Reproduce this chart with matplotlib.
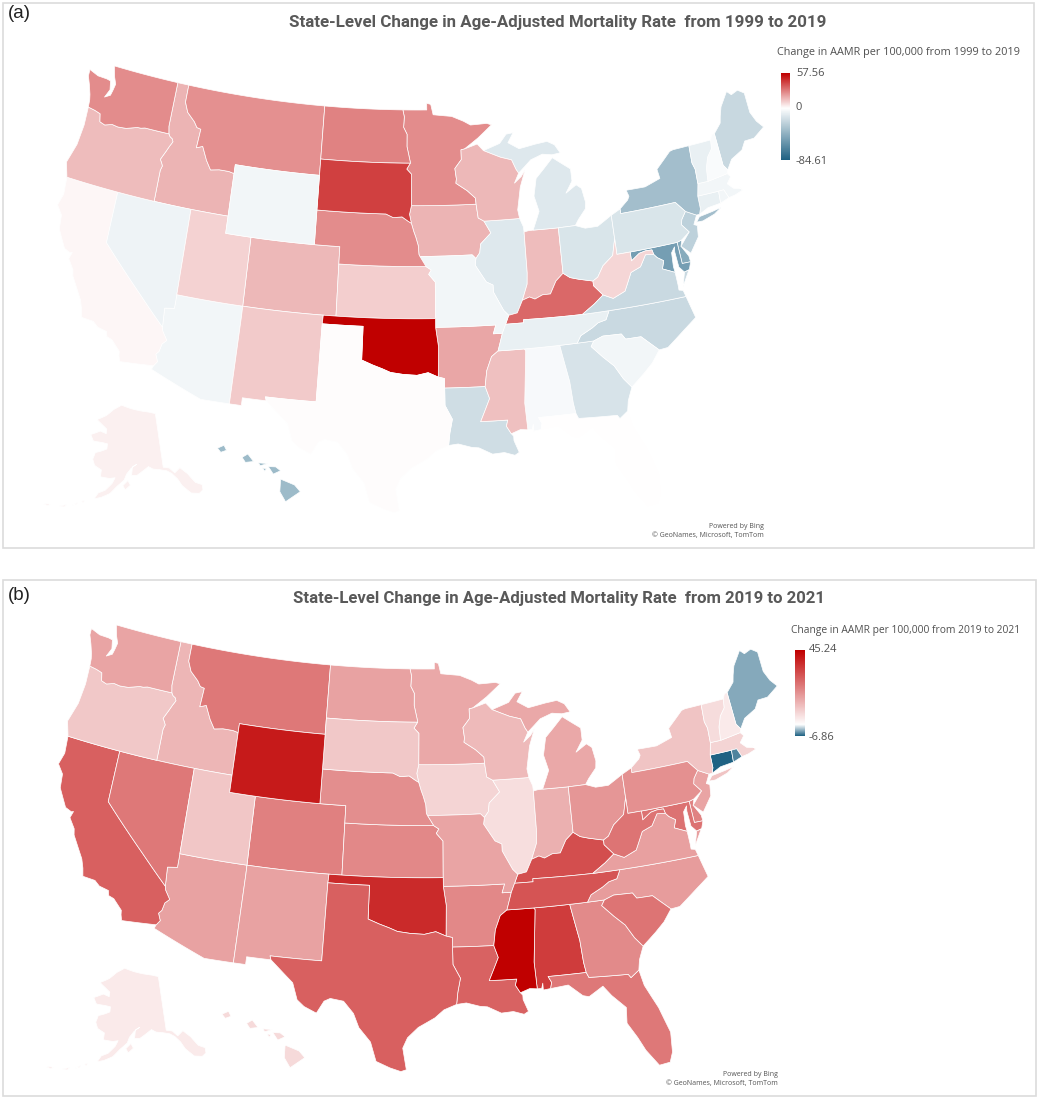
#!/usr/bin/env python3
"""Two choropleth panels: state-level change in age-adjusted mortality rate."""

import math

import matplotlib
matplotlib.use("Agg")
import matplotlib.pyplot as plt
from matplotlib.collections import PolyCollection
from matplotlib.colors import LinearSegmentedColormap, TwoSlopeNorm
from matplotlib.patches import Rectangle
import numpy as np

STATES = [
    "AK", "AL", "AR", "AZ", "CA", "CO", "CT", "DC", "DE", "FL", "GA", "HI", "IA",
    "ID", "IL", "IN", "KS", "KY", "LA", "MA", "MD", "ME", "MI", "MN", "MO", "MS",
    "MT", "NC", "ND", "NE", "NH", "NJ", "NM", "NV", "NY", "OH", "OK", "OR", "PA",
    "RI", "SC", "SD", "TN", "TX", "UT", "VA", "VT", "WA", "WI", "WV", "WY",
]
CHANGE_1999_2019 = [
    3.5, -3, 20, -5, 2, 16, -8, -84.61, -45, 0.3, -15, -37, 17,
    17, -12, 15, 11, 34, -18, -5, -52, -21, -12, 26, -5, 14,
    25, -20, 28, 26, -2, -25, 12, -6, -35, -14, 57.56, 15, -14,
    -5, -5, 43, -8, 0.5, 10, -20, -8, 26, 16, 9, -5,
]
CHANGE_2019_2021 = [
    3.7, 34.5, 21, 16.5, 28, 22.6, -6.86, 25, 22, 24, 20.6, 6.7, 7.7,
    13, 5.9, 14, 21, 31.3, 27.6, 7.7, 25, -3.7, 15.3, 15.5, 16, 45.24,
    24, 17.6, 16.5, 20, 3.7, 16, 16.5, 24, 10.4, 18.7, 37.5, 9.6, 19.5,
    -5.4, 24.6, 9.7, 30.2, 28.2, 10, 16.7, 6.3, 16, 12.2, 24.6, 40.5,
]

# state outlines, lon/lat, coarse hand-traced
OUTLINES = {
    "WA": [[(-122.75, 49), (-117.03, 49), (-117.04, 46.42), (-116.92, 46), (-118.98, 46), (-119.3, 45.93),
            (-119.6, 45.92), (-120.5, 45.7), (-121.2, 45.65), (-121.7, 45.7), (-122.3, 45.55), (-122.75, 45.65),
            (-122.9, 46.1), (-123.4, 46.2), (-124, 46.27), (-124.05, 46.7), (-124.15, 47), (-124.4, 47.5),
            (-124.7, 48), (-124.72, 48.38), (-123.9, 48.17), (-123.1, 48.15), (-122.75, 48.1), (-122.6, 47.6),
            (-122.9, 47.1), (-122.45, 47.3), (-122.35, 47.6), (-122.25, 48), (-122.5, 48.4)]],
    "OR": [[(-124, 46.27), (-123.4, 46.2), (-122.9, 46.1), (-122.75, 45.65), (-122.3, 45.55), (-121.7, 45.7),
            (-121.2, 45.65), (-120.5, 45.7), (-119.6, 45.92), (-119.3, 45.93), (-118.98, 46), (-116.92, 46),
            (-116.78, 45.85), (-116.55, 45.75), (-116.46, 45.6), (-116.67, 45.3), (-116.85, 45), (-117.2, 44.45),
            (-117.03, 44.25), (-116.93, 44.1), (-117.03, 43.83), (-117.03, 42), (-124.2, 42), (-124.55, 42.84),
            (-124.1, 44), (-123.95, 45.2)]],
    "CA": [[(-124.2, 42), (-120, 42), (-120, 39), (-114.63, 35), (-114.57, 34.8), (-114.14, 34.3), (-114.43, 34.05),
            (-114.53, 33.6), (-114.72, 33.4), (-114.5, 33), (-114.72, 32.72), (-117.12, 32.53), (-117.25, 32.85),
            (-117.3, 33.1), (-118, 33.65), (-118.4, 33.75), (-118.5, 34.03), (-119.2, 34.15), (-119.6, 34.4),
            (-120.5, 34.45), (-120.65, 34.9), (-120.9, 35.4), (-121.9, 36.6), (-122, 36.95), (-122.5, 37.5),
            (-122.35, 37.9), (-122.5, 37.85), (-123, 38), (-123.75, 39), (-123.85, 39.8), (-124.35, 40.3),
            (-124.1, 41)]],
    "NV": [[(-120, 42), (-114.04, 42), (-114.04, 36.2), (-114.75, 36.1), (-114.63, 35), (-120, 39)]],
    "ID": [[(-117.03, 49), (-116.05, 49), (-116.05, 48), (-115.7, 47.45), (-115, 47), (-114.7, 46.7), (-114.35, 46.65),
            (-114.45, 45.55), (-113.95, 45.7), (-113.45, 44.95), (-113, 44.45), (-112.3, 44.55), (-111.5, 44.55),
            (-111.05, 44.48), (-111.05, 42), (-117.03, 42), (-117.03, 43.83), (-116.93, 44.1), (-117.03, 44.25),
            (-117.2, 44.45), (-116.85, 45), (-116.67, 45.3), (-116.46, 45.6), (-116.55, 45.75), (-116.78, 45.85),
            (-116.92, 46), (-117.04, 46.42)]],
    "MT": [[(-116.05, 49), (-104.05, 49), (-104.05, 45), (-111.05, 45), (-111.05, 44.48), (-111.5, 44.55),
            (-112.3, 44.55), (-113, 44.45), (-113.45, 44.95), (-113.95, 45.7), (-114.45, 45.55), (-114.35, 46.65),
            (-114.7, 46.7), (-115, 47), (-115.7, 47.45), (-116.05, 48)]],
    "WY": [[(-111.05, 45), (-104.05, 45), (-104.05, 41), (-111.05, 41)]],
    "UT": [[(-114.04, 42), (-111.05, 42), (-111.05, 41), (-109.05, 41), (-109.05, 37), (-114.04, 37)]],
    "CO": [[(-109.05, 41), (-102.05, 41), (-102.05, 37), (-109.05, 37)]],
    "AZ": [[(-114.04, 37), (-109.05, 37), (-109.05, 31.33), (-111.07, 31.33), (-114.81, 32.5), (-114.72, 32.72),
            (-114.5, 33), (-114.72, 33.4), (-114.53, 33.6), (-114.43, 34.05), (-114.14, 34.3), (-114.57, 34.8),
            (-114.63, 35), (-114.75, 36.1), (-114.04, 36.2)]],
    "NM": [[(-109.05, 37), (-103, 37), (-103.04, 36.5), (-103.06, 32), (-106.62, 32), (-106.53, 31.78),
            (-108.21, 31.78), (-108.21, 31.33), (-109.05, 31.33)]],
    "ND": [[(-104.05, 49), (-97.23, 49), (-97.1, 48.6), (-97.15, 48), (-96.85, 47.6), (-96.85, 46.9), (-96.56, 46),
            (-96.56, 45.94), (-104.05, 45.94)]],
    "SD": [[(-104.05, 45.94), (-96.56, 45.94), (-96.85, 45.6), (-96.45, 45.3), (-96.45, 43.5), (-96.6, 43), (-96.45, 42.49),
            (-96.7, 42.6), (-97.2, 42.85), (-97.9, 42.8), (-98.5, 43), (-104.05, 43)]],
    "NE": [[(-104.05, 43), (-98.5, 43), (-97.9, 42.8), (-97.2, 42.85), (-96.7, 42.6), (-96.45, 42.49), (-96.25, 42),
            (-96.1, 41.7), (-95.9, 41.2), (-95.85, 40.7), (-95.77, 40.58), (-95.3, 40), (-102.05, 40), (-102.05, 41),
            (-104.05, 41)]],
    "KS": [[(-102.05, 40), (-95.3, 40), (-94.9, 39.8), (-95.1, 39.55), (-94.6, 39.1), (-94.62, 37), (-102.05, 37)]],
    "OK": [[(-103, 37), (-94.62, 37), (-94.62, 36.5), (-94.43, 35.4), (-94.48, 33.64), (-95.2, 33.9), (-96, 33.75),
            (-97, 33.8), (-97.9, 33.9), (-98.5, 34.1), (-99.2, 34.3), (-100, 34.56), (-100, 36.5), (-103.04, 36.5)]],
    "TX": [[(-103.04, 36.5), (-100, 36.5), (-100, 34.56), (-99.2, 34.3), (-98.5, 34.1), (-97.9, 33.9), (-97, 33.8),
            (-96, 33.75), (-95.2, 33.9), (-94.48, 33.64), (-94.04, 33.55), (-94.04, 33), (-94.04, 32), (-93.55, 31.2),
            (-93.75, 30.4), (-93.85, 29.7), (-94.7, 29.4), (-95.3, 28.95), (-96.4, 28.4), (-97.1, 27.8), (-97.4, 27.2),
            (-97.15, 25.96), (-97.5, 25.85), (-98.2, 26.05), (-99.1, 26.4), (-99.5, 27.5), (-100.3, 28.3), (-100.7, 29.1),
            (-101.4, 29.77), (-102.3, 29.88), (-102.7, 29.7), (-103.15, 28.98), (-104, 29.3), (-104.5, 29.65),
            (-104.9, 30.6), (-106, 31.4), (-106.53, 31.78), (-106.62, 32), (-103.06, 32)]],
    "MN": [[(-97.23, 49), (-95.15, 49), (-95.15, 49.38), (-94.8, 49.32), (-94.6, 48.72), (-93, 48.6), (-92, 48.3),
            (-91.4, 48.06), (-90, 48.1), (-89.6, 48), (-90.8, 47.3), (-92, 46.7), (-92.29, 46.66), (-92.29, 46.1),
            (-92.85, 45.6), (-92.75, 45), (-92.8, 44.75), (-91.9, 44.3), (-91.25, 43.85), (-91.22, 43.5), (-96.45, 43.5),
            (-96.45, 45.3), (-96.85, 45.6), (-96.56, 45.94), (-96.56, 46), (-96.85, 46.9), (-96.85, 47.6), (-97.15, 48),
            (-97.1, 48.6)]],
    "IA": [[(-96.45, 43.5), (-91.22, 43.5), (-91.1, 42.7), (-90.65, 42.5), (-90.15, 41.8), (-91, 41.2), (-91.1, 40.7),
            (-91.42, 40.38), (-91.7, 40.6), (-95.77, 40.58), (-95.85, 40.7), (-95.9, 41.2), (-96.1, 41.7), (-96.25, 42),
            (-96.45, 42.49), (-96.6, 43)]],
    "MO": [[(-95.77, 40.58), (-91.7, 40.6), (-91.42, 40.38), (-91.5, 40), (-90.7, 39), (-90.2, 38.8), (-90.2, 38.4),
            (-89.5, 37.3), (-89.15, 37), (-89.42, 36.5), (-89.7, 36), (-90.37, 36), (-90.15, 36.5), (-94.62, 36.5),
            (-94.62, 37), (-94.6, 39.1), (-95.1, 39.55), (-94.9, 39.8), (-95.3, 40)]],
    "AR": [[(-94.62, 36.5), (-90.15, 36.5), (-90.37, 36), (-89.7, 36), (-90.1, 35), (-90.6, 34.7), (-91, 33.9),
            (-91.17, 33), (-94.04, 33), (-94.04, 33.55), (-94.48, 33.64), (-94.43, 35.4)]],
    "LA": [[(-94.04, 33), (-91.17, 33), (-90.9, 32.3), (-91.6, 31), (-89.73, 31), (-89.85, 30.65), (-89.55, 30.2),
            (-89.4, 30.05), (-89.4, 29.8), (-89.1, 29.1), (-89.4, 28.95), (-90.1, 29.15), (-90.9, 29.1), (-91.8, 29.5),
            (-92.3, 29.55), (-93.2, 29.77), (-93.85, 29.7), (-93.75, 30.4), (-93.55, 31.2), (-94.04, 32)]],
    "MS": [[(-90.1, 35), (-88.2, 35), (-88.1, 34.9), (-88.47, 31.9), (-88.4, 30.35), (-88.9, 30.4), (-89.55, 30.2),
            (-89.85, 30.65), (-89.73, 31), (-91.6, 31), (-90.9, 32.3), (-91.17, 33), (-91, 33.9), (-90.6, 34.7)]],
    "TN": [[(-90.1, 35), (-89.7, 36), (-89.42, 36.5), (-88.07, 36.5), (-88.07, 36.68), (-83.68, 36.6), (-81.68, 36.59),
            (-82, 36.1), (-82.6, 36), (-83.1, 35.75), (-84, 35.4), (-84.32, 35), (-85.6, 35), (-88.2, 35)]],
    "KY": [[(-89.42, 36.5), (-89.15, 37), (-88.5, 37.1), (-88.05, 37.8), (-87.5, 37.95), (-87.1, 37.8), (-86.5, 38),
            (-85.9, 38), (-85.4, 38.7), (-84.8, 39.1), (-84.3, 38.8), (-83.7, 38.65), (-82.6, 38.42), (-82.6, 38.15),
            (-81.97, 37.54), (-82.7, 37.1), (-83.68, 36.6), (-88.07, 36.68), (-88.07, 36.5)]],
    "IL": [[(-90.65, 42.5), (-87.8, 42.5), (-87.55, 42), (-87.53, 41.7), (-87.53, 39.35), (-87.6, 38.7), (-88.05, 37.8),
            (-88.5, 37.1), (-89.15, 37), (-89.5, 37.3), (-90.2, 38.4), (-90.2, 38.8), (-90.7, 39), (-91.5, 40),
            (-91.42, 40.38), (-91.1, 40.7), (-91, 41.2), (-90.15, 41.8)]],
    "WI": [[(-92.29, 46.66), (-92, 46.7), (-90.9, 46.95), (-90.4, 46.55), (-89, 46.1), (-88.1, 45.9), (-87.8, 45.35),
            (-87.6, 45.1), (-88, 44.55), (-87.4, 44.9), (-87.05, 45.25), (-87.55, 44.3), (-87.9, 43), (-87.8, 42.5),
            (-90.65, 42.5), (-91.1, 42.7), (-91.22, 43.5), (-91.25, 43.85), (-91.9, 44.3), (-92.8, 44.75), (-92.75, 45),
            (-92.85, 45.6), (-92.29, 46.1)]],
    "MI": [[(-86.8, 41.76), (-84.8, 41.73), (-83.45, 41.73), (-83.15, 42.05), (-82.5, 42.6), (-82.42, 43), (-82.6, 43.8),
            (-83, 44.05), (-83.9, 43.65), (-83.3, 44.3), (-83.3, 45), (-84.7, 45.78), (-85.5, 45.2), (-86.2, 44.7),
            (-86.5, 43.7), (-86.2, 42.8)],
           [(-90.4, 46.55), (-89, 46.9), (-88.4, 47.4), (-87.8, 47.45), (-88.3, 46.9), (-87.4, 46.5), (-86, 46.67),
            (-85, 46.75), (-84.4, 46.5), (-84, 46), (-84.7, 45.95), (-85.5, 46.05), (-86.5, 45.8), (-87.6, 45.1),
            (-87.8, 45.35), (-88.1, 45.9), (-89, 46.1)]],
    "IN": [[(-87.53, 41.7), (-87.2, 41.75), (-86.8, 41.76), (-84.8, 41.73), (-84.8, 39.1), (-85.4, 38.7), (-85.9, 38),
            (-86.5, 38), (-87.1, 37.8), (-87.5, 37.95), (-88.05, 37.8), (-87.6, 38.7), (-87.53, 39.35)]],
    "OH": [[(-84.8, 41.73), (-83.45, 41.73), (-82.7, 41.5), (-81.7, 41.5), (-80.52, 42), (-80.52, 40.64), (-80.85, 39.7),
            (-81.7, 39.2), (-82.2, 38.6), (-82.6, 38.42), (-83.7, 38.65), (-84.3, 38.8), (-84.8, 39.1)]],
    "WV": [[(-80.52, 40.64), (-80.52, 39.72), (-79.48, 39.72), (-79.48, 39.2), (-78.8, 39.55), (-78.3, 39.62), (-77.8, 39.6),
            (-77.72, 39.32), (-78.35, 39.4), (-78.87, 38.77), (-79.65, 38.55), (-80.3, 37.55), (-81.25, 37.25),
            (-81.97, 37.54), (-82.6, 38.15), (-82.6, 38.42), (-82.2, 38.6), (-81.7, 39.2), (-80.85, 39.7)]],
    "VA": [[(-83.68, 36.6), (-82.7, 37.1), (-81.97, 37.54), (-81.25, 37.25), (-80.3, 37.55), (-79.65, 38.55),
            (-78.87, 38.77), (-78.35, 39.4), (-77.72, 39.32), (-77.5, 39.1), (-77.05, 38.85), (-77.25, 38.4),
            (-76.35, 38.05), (-76.3, 37.3), (-76.3, 37), (-76, 36.93), (-75.87, 36.55), (-81.68, 36.59)],
           [(-75.95, 37.15), (-75.3, 38), (-75.65, 37.95)]],
    "NC": [[(-81.68, 36.59), (-75.87, 36.55), (-75.5, 35.25), (-76.5, 34.7), (-77.9, 33.9), (-78.55, 33.86), (-79.67, 34.8),
            (-80.8, 34.82), (-81.05, 35.15), (-82.4, 35.2), (-83.1, 35), (-84.32, 35), (-84, 35.4), (-83.1, 35.75),
            (-82.6, 36), (-82, 36.1)]],
    "SC": [[(-83.1, 35), (-82.4, 35.2), (-81.05, 35.15), (-80.8, 34.82), (-79.67, 34.8), (-78.55, 33.86), (-79.2, 33.2),
            (-79.9, 32.7), (-80.9, 32.04), (-81.4, 32.6), (-81.9, 33.4), (-82.6, 34), (-83.35, 34.7)]],
    "GA": [[(-85.6, 35), (-84.32, 35), (-83.1, 35), (-83.35, 34.7), (-82.6, 34), (-81.9, 33.4), (-81.4, 32.6), (-80.9, 32.04),
            (-81.3, 31.3), (-81.45, 30.72), (-82.05, 30.36), (-82.2, 30.57), (-84.86, 30.7), (-85, 31), (-85.1, 31.6),
            (-85.18, 32.87)]],
    "AL": [[(-88.2, 35), (-85.6, 35), (-85.18, 32.87), (-85.1, 31.6), (-85, 31), (-87.6, 31), (-87.4, 30.65), (-87.5, 30.3),
            (-88, 30.25), (-88, 30.65), (-88.1, 30.35), (-88.4, 30.35), (-88.47, 31.9), (-88.1, 34.9)]],
    "FL": [[(-87.6, 31), (-85, 31), (-84.86, 30.7), (-82.2, 30.57), (-82.05, 30.36), (-81.45, 30.72), (-81.25, 29.8),
            (-80.55, 28.4), (-80.05, 26.9), (-80.15, 25.75), (-80.4, 25.2), (-81.1, 25.13), (-81.8, 26.1), (-82.2, 26.9),
            (-82.75, 27.8), (-82.65, 28.7), (-83.5, 29.5), (-84, 30.1), (-85, 29.6), (-85.4, 29.7), (-86.3, 30.4),
            (-87.5, 30.3), (-87.4, 30.65)]],
    "MD": [[(-79.48, 39.72), (-75.79, 39.72), (-75.7, 38.46), (-75.05, 38.45), (-75.25, 38.03), (-75.65, 37.95),
            (-76, 38.3), (-76.1, 39.2), (-76.05, 39.5), (-76.35, 39.2), (-76.4, 38.4), (-76.35, 38.05), (-77.25, 38.4),
            (-77.05, 38.85), (-77.5, 39.1), (-77.72, 39.32), (-77.8, 39.6), (-78.3, 39.62), (-78.8, 39.55), (-79.48, 39.2)]],
    "DC": [[(-77.12, 38.93), (-77.04, 39), (-76.91, 38.89), (-77.04, 38.79)]],
    "DE": [[(-75.79, 39.72), (-75.4, 39.8), (-75.55, 39.45), (-75.1, 38.8), (-75.05, 38.45), (-75.7, 38.46)]],
    "PA": [[(-80.52, 42), (-79.76, 42.27), (-79.76, 42), (-75.35, 42), (-74.7, 41.36), (-75.1, 40.95), (-75.2, 40.65),
            (-74.72, 40.15), (-75.4, 39.8), (-75.79, 39.72), (-80.52, 39.72)]],
    "NJ": [[(-74.7, 41.36), (-73.9, 41), (-74.25, 40.5), (-74, 40.4), (-74.1, 39.75), (-74.9, 38.93), (-75.55, 39.45),
            (-74.72, 40.15), (-75.2, 40.65), (-75.1, 40.95)]],
    "NY": [[(-79.76, 42.27), (-79.05, 42.7), (-78.9, 42.9), (-79.05, 43.27), (-77.5, 43.25), (-76.2, 43.55), (-76.3, 44.1),
            (-75, 44.95), (-74.7, 45), (-73.35, 45.01), (-73.4, 44), (-73.25, 43.6), (-73.28, 42.75), (-73.5, 42.05),
            (-73.5, 41.3), (-73.65, 41), (-73.9, 41), (-74.7, 41.36), (-75.35, 42), (-79.76, 42)],
           [(-74, 40.6), (-73.7, 40.87), (-72.6, 40.98), (-71.9, 41.07), (-72.5, 40.8), (-73.5, 40.58)]],
    "VT": [[(-73.35, 45.01), (-71.5, 45.01), (-71.6, 44.5), (-72.05, 44.1), (-72.35, 43.5), (-72.46, 42.73),
            (-73.28, 42.75), (-73.25, 43.6), (-73.4, 44)]],
    "NH": [[(-71.5, 45.01), (-71.3, 45.3), (-71.08, 45.3), (-70.98, 43.4), (-70.7, 43.07), (-70.82, 42.87), (-72.46, 42.73),
            (-72.35, 43.5), (-72.05, 44.1), (-71.6, 44.5)]],
    "ME": [[(-71.08, 45.3), (-70.4, 45.8), (-70.25, 46.2), (-70, 46.7), (-69.23, 47.46), (-68.9, 47.2), (-68.3, 47.35),
            (-67.8, 47.07), (-67.78, 45.9), (-67.45, 45.3), (-67, 44.85), (-68, 44.4), (-68.8, 44.4), (-69.2, 43.95),
            (-70.2, 43.6), (-70.7, 43.07), (-70.98, 43.4)]],
    "MA": [[(-73.5, 42.05), (-73.28, 42.75), (-72.46, 42.73), (-70.82, 42.87), (-70.6, 42.65), (-71, 42.3), (-70.6, 41.95),
            (-70, 41.8), (-70.25, 42.05), (-69.95, 41.7), (-70.6, 41.55), (-71.12, 41.5), (-71.38, 42.02), (-71.8, 42.02)]],
    "CT": [[(-73.5, 42.05), (-71.8, 42.02), (-71.85, 41.32), (-72.9, 41.25), (-73.65, 41), (-73.5, 41.3)]],
    "RI": [[(-71.8, 42.02), (-71.38, 42.02), (-71.12, 41.5), (-71.85, 41.32)]],
    "AK": [[(-141, 69.65), (-141, 60.3), (-139, 60), (-137.5, 59), (-135.5, 59.7), (-133.5, 58.4), (-131.8, 56.6),
            (-130, 55.9), (-130.2, 55), (-131.5, 54.6), (-133.8, 55), (-136, 56.6), (-137, 57.9), (-138.5, 59),
            (-140, 59.6), (-142.5, 60), (-144.5, 60.2), (-146, 60.7), (-148, 60), (-150, 59.3), (-151.8, 59.3),
            (-151.5, 60.8), (-150, 61.2), (-152, 60.5), (-153.5, 59.5), (-154.2, 58.5), (-156.5, 57.3), (-158.5, 56),
            (-161, 55.2), (-163, 54.8), (-162, 55.9), (-160, 56.5), (-158, 57.8), (-157.2, 58.8), (-159, 58.6),
            (-162, 58.7), (-162, 59.9), (-164.5, 60.5), (-165.5, 61.5), (-165, 62.7), (-163, 63.1), (-161, 63.6),
            (-161, 64.5), (-163, 64.6), (-166.5, 64.6), (-168, 65.6), (-164.5, 66.5), (-162, 66.2), (-162, 67),
            (-164, 67.6), (-166.7, 68.35), (-163, 69.3), (-160, 70.5), (-156.5, 71.35), (-152, 70.8), (-148, 70.4),
            (-144, 70.05)],
           [(-154.6, 57.5), (-153, 58.4), (-152.2, 57.6), (-153.8, 56.8)],
           [(-166.5, 54), (-165.7, 54.3), (-166, 53.8)],
           [(-169, 53), (-167.5, 53.7), (-167.8, 53.3)],
           [(-172.5, 52.3), (-170.5, 52.9), (-171, 52.4)],
           [(-177, 51.9), (-175, 52.2), (-175.5, 51.8)]],
    "HI": [[(-155.95, 20.25), (-155.1, 19.9), (-154.75, 19.5), (-155.65, 18.9), (-156, 19.5)],
           [(-156.7, 21), (-156.25, 20.98), (-155.95, 20.75), (-156.4, 20.55)],
           [(-157.3, 21.22), (-156.72, 21.18), (-157.2, 21.05)],
           [(-158.3, 21.55), (-157.95, 21.75), (-157.6, 21.3), (-158.1, 21.25)],
           [(-159.8, 22.1), (-159.4, 22.27), (-159.25, 21.97), (-159.6, 21.85)],
           [(-157.05, 20.92), (-156.82, 20.87), (-156.92, 20.72)]],
}

TEAL = "#1F6283"
RED = "#C00000"
DIVERGING = LinearSegmentedColormap.from_list("aamr", [TEAL, "#FFFFFF", RED])

PANELS = [
    dict(values=CHANGE_1999_2019, letter="(a)", letter_y=14, frame=(3, 3, 1034, 548),
         title="State-Level Change in Age-Adjusted Mortality Rate  from 1999 to 2019", title_xy=(558, 22), title_size=12.2,
         legend="Change in AAMR per 100,000 from 1999 to 2019", legend_xy=(777, 53), legend_size=7.8,
         bar=(781, 790, 73, 160), ticks=[57.56, 0, -84.61], tick_x=796, tick_ys=[73, 108, 161],
         credit_xy=(764, 526, 536), conus=(417, -950, 1.0), ak=(131, 248), hi=(288, 490)),
    dict(values=CHANGE_2019_2021, letter="(b)", letter_y=596, frame=(3, 580, 1036, 1096),
         title="State-Level Change in Age-Adjusted Mortality Rate  from 2019 to 2021", title_xy=(559, 599), title_size=12.05,
         legend="Change in AAMR per 100,000 from 2019 to 2021", legend_xy=(791, 630), legend_size=7.4,
         bar=(795, 805, 650, 736), ticks=[45.24, -6.86], tick_x=809, tick_ys=[650, 737],
         credit_xy=(778, 1074, 1084), conus=(424.4, -391, 1.018), ak=(134, 811), hi=(292.5, 1056)),
]


def densify(ring, step=0.5):
    """Split long segments so straight parallels bend with the projection."""
    out = []
    for (lon0, lat0), (lon1, lat1) in zip(ring, ring[1:] + ring[:1]):
        n = max(1, int(max(abs(lon1 - lon0), abs(lat1 - lat0)) / step))
        for k in range(n):
            out.append((lon0 + (lon1 - lon0) * k / n, lat0 + (lat1 - lat0) * k / n))
    return out


def project(state, ring, panel):
    if state == "AK":
        x0, y0 = panel["ak"]
        pts = []
        for lon, lat in densify(ring):
            th = math.radians(0.76 * (lon + 152))
            rho = (98.5 - lat) * 5.8
            pts.append((x0 + rho * math.sin(th), y0 + rho * math.cos(th)))
        return pts
    if state == "HI":
        x0, y0 = panel["hi"]
        return [(x0 + (lon + 155.5) * 16.4, y0 - (lat - 19.6) * 16.75) for lon, lat in ring]
    x0, y0, sx = panel["conus"]
    pts = []
    for lon, lat in densify(ring):
        th = math.radians(0.62 * (lon + 96))
        rho = 1060 + (49 - lat) * 17.4
        squeeze = max(0.975, 1 - 0.002 * (49 - lat))
        pts.append((x0 + sx * squeeze * rho * math.sin(th), y0 + rho * math.cos(th)))
    return pts


fig = plt.figure(figsize=(10.4, 10.99), dpi=100)
ax = fig.add_axes([0, 0, 1, 1])

for panel in PANELS:
    left, top, right, bottom = panel["frame"]
    ax.add_patch(Rectangle((left, top), right - left, bottom - top, facecolor="white",
                           edgecolor="#DCDCDC", linewidth=1.2))

    vals = panel["values"]
    norm = TwoSlopeNorm(vmin=min(vals), vcenter=0, vmax=max(vals))
    polys, colors = [], []
    for state, value in zip(STATES, vals):
        for ring in OUTLINES[state]:
            polys.append(project(state, ring, panel))
            colors.append(DIVERGING(norm(value)))
    ax.add_collection(PolyCollection(polys, facecolors=colors, edgecolors="white", linewidths=0.5))

    ax.text(8, panel["letter_y"], panel["letter"], fontsize=13.5, family="Liberation Sans",
            color="#222222", ha="left", va="center")
    ax.text(*panel["title_xy"], panel["title"], fontsize=panel["title_size"], fontweight="bold", family="Roboto",
            color="#595959", ha="center", va="center")
    ax.text(*panel["legend_xy"], panel["legend"], fontsize=panel["legend_size"], family="Open Sans",
            color="#505050", ha="left", va="center")

    x0, x1, y0, y1 = panel["bar"]
    grad = np.linspace(max(vals), min(vals), 256).reshape(-1, 1)
    ax.imshow(grad, cmap=DIVERGING, norm=norm, extent=(x0, x1, y1, y0), aspect="auto", zorder=2)
    for tick, y in zip(panel["ticks"], panel["tick_ys"]):
        ax.text(panel["tick_x"], y, f"{tick:g}", fontsize=8, family="Open Sans",
                color="#505050", ha="left", va="center")

    cx, cy0, cy1 = panel["credit_xy"]
    ax.text(cx, cy0, "Powered by Bing", fontsize=5, family="Open Sans", color="#555555", ha="right", va="center")
    ax.text(cx, cy1, "\u00a9 GeoNames, Microsoft, TomTom", fontsize=5, family="Open Sans",
            color="#555555", ha="right", va="center")

ax.set_xlim(0, 1040)
ax.set_ylim(1099, 0)
ax.axis("off")

fig.savefig("out.png", dpi=100)
plt.close(fig)
